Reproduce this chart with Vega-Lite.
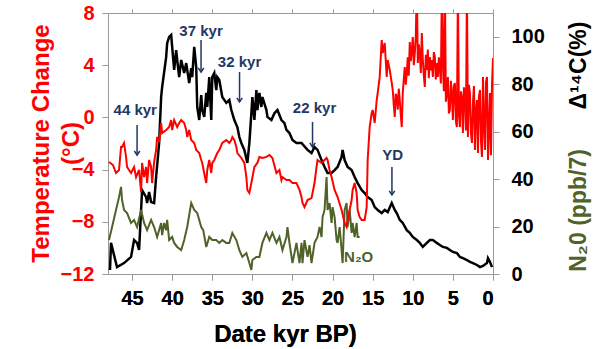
{
  "$schema": "https://vega.github.io/schema/vega-lite/v6.json",
  "width": 385,
  "height": 261,
  "autosize": {"type": "none"},
  "padding": {"left": 108, "top": 13, "right": 108, "bottom": 75},
  "background": "white",
  "config": {
    "view": {"stroke": "#999999", "strokeWidth": 1},
    "font": "Liberation Sans",
    "axis": {"labelFont": "Liberation Sans", "titleFont": "Liberation Sans", "labelFontWeight": "bold", "titleFontWeight": "bold", "grid": false, "domain": false, "tickColor": "#999999", "tickSize": 6}
  },
  "datasets": {
    "temp": [
      {"kyr":47.875,"t":-3.42},{"kyr":47.375,"t":-3.65},{"kyr":47.0,"t":-4.26},{"kyr":46.625,"t":-4.03},{"kyr":46.375,"t":-2.27},{"kyr":46.25,"t":-2.27},{"kyr":46.0,"t":-1.96},{"kyr":45.75,"t":-3.03},{"kyr":45.625,"t":-3.80},{"kyr":45.125,"t":-4.26},{"kyr":44.75,"t":-3.80},{"kyr":44.5,"t":-4.57},{"kyr":44.125,"t":-4.03},{"kyr":43.875,"t":-5.72},{"kyr":43.75,"t":-3.49},{"kyr":43.5,"t":-4.57},{"kyr":43.25,"t":-3.80},{"kyr":43.125,"t":-5.03},{"kyr":42.875,"t":-3.26},{"kyr":42.625,"t":-3.80},{"kyr":42.5,"t":-5.03},{"kyr":42.25,"t":-3.42},{"kyr":42.0,"t":-2.50},{"kyr":41.875,"t":-1.50},{"kyr":41.625,"t":-1.89},{"kyr":41.375,"t":-0.43},{"kyr":41.25,"t":-1.20},{"kyr":40.75,"t":-0.97},{"kyr":40.375,"t":-0.74},{"kyr":40.125,"t":-0.20},{"kyr":40.0,"t":-0.97},{"kyr":39.75,"t":-0.20},{"kyr":39.375,"t":-0.74},{"kyr":39.125,"t":-0.43},{"kyr":38.875,"t":-0.20},{"kyr":38.5,"t":-0.43},{"kyr":38.25,"t":-0.97},{"kyr":38.125,"t":-1.50},{"kyr":37.875,"t":-0.97},{"kyr":37.625,"t":-1.73},{"kyr":37.25,"t":-1.96},{"kyr":37.0,"t":-2.50},{"kyr":36.625,"t":-2.73},{"kyr":36.375,"t":-3.26},{"kyr":36.25,"t":-3.49},{"kyr":36.0,"t":-4.3},{"kyr":35.75,"t":-5.03},{"kyr":35.625,"t":-4.03},{"kyr":35.375,"t":-3.26},{"kyr":35.125,"t":-4.26},{"kyr":35.0,"t":-3.49},{"kyr":34.75,"t":-3.26},{"kyr":34.375,"t":-2.73},{"kyr":34.125,"t":-2.50},{"kyr":33.75,"t":-1.96},{"kyr":33.25,"t":-1.73},{"kyr":32.875,"t":-1.96},{"kyr":32.625,"t":-1.73},{"kyr":32.5,"t":-1.50},{"kyr":32.25,"t":-1.73},{"kyr":32.0,"t":-2.27},{"kyr":31.875,"t":-2.73},{"kyr":31.375,"t":-3.11},{"kyr":31.0,"t":-3.49},{"kyr":30.75,"t":-4.57},{"kyr":30.625,"t":-5.56},{"kyr":30.375,"t":-5.79},{"kyr":30.125,"t":-5.03},{"kyr":29.75,"t":-3.80},{"kyr":29.375,"t":-3.49},{"kyr":29.125,"t":-3.03},{"kyr":28.75,"t":-3.11},{"kyr":28.25,"t":-3.03},{"kyr":27.875,"t":-2.88},{"kyr":27.5,"t":-3.11},{"kyr":27.0,"t":-4.26},{"kyr":26.625,"t":-4.03},{"kyr":26.375,"t":-4.80},{"kyr":26.25,"t":-4.57},{"kyr":25.75,"t":-4.80},{"kyr":25.375,"t":-4.80},{"kyr":25.0,"t":-5.03},{"kyr":24.5,"t":-5.03},{"kyr":24.125,"t":-5.56},{"kyr":23.875,"t":-6.10},{"kyr":23.75,"t":-6.56},{"kyr":23.5,"t":-6.87},{"kyr":23.125,"t":-6.33},{"kyr":22.625,"t":-6.18},{"kyr":22.25,"t":-5.03},{"kyr":22.0,"t":-3.80},{"kyr":21.875,"t":-3.26},{"kyr":21.375,"t":-3.49},{"kyr":21.0,"t":-3.26},{"kyr":20.75,"t":-3.11},{"kyr":20.625,"t":-3.26},{"kyr":20.375,"t":-4.03},{"kyr":20.125,"t":-4.57},{"kyr":19.75,"t":-5.56},{"kyr":19.375,"t":-6.10},{"kyr":18.875,"t":-7.10},{"kyr":18.5,"t":-8.09},{"kyr":18.25,"t":-8.40},{"kyr":18.125,"t":-7.86},{"kyr":17.875,"t":-7.10},{"kyr":17.625,"t":-6.33},{"kyr":17.5,"t":-5.56},{"kyr":17.25,"t":-5.03},{"kyr":17.0,"t":-5.79},{"kyr":16.875,"t":-7.10},{"kyr":16.625,"t":-7.63},{"kyr":16.375,"t":-7.86},{"kyr":16.0,"t":-7.86},{"kyr":15.75,"t":-6.87},{"kyr":15.625,"t":-3.26},{"kyr":15.375,"t":-0.74},{"kyr":15.125,"t":0.34},{"kyr":15.0,"t":0.57},{"kyr":14.75,"t":-0.43},{"kyr":14.5,"t":1.33},{"kyr":14.375,"t":1.87},{"kyr":14.125,"t":3.10},{"kyr":13.875,"t":5.93},{"kyr":13.75,"t":4.93},{"kyr":13.5,"t":5.70},{"kyr":13.25,"t":3.10},{"kyr":13.125,"t":4.40},{"kyr":12.875,"t":3.63},{"kyr":12.625,"t":2.64},
      {"kyr":12.5,"t":2.1},{"kyr":12.375,"t":1.0},{"kyr":12.25,"t":0.03},{"kyr":12.125,"t":1.8},{"kyr":12.0,"t":1.56},{"kyr":11.875,"t":0.6},{"kyr":11.75,"t":2.2},{"kyr":11.625,"t":1.33},{"kyr":11.5,"t":0.2},{"kyr":11.375,"t":-0.74},{"kyr":11.25,"t":1.87},{"kyr":11.125,"t":2.9},{"kyr":11.0,"t":3.86},{"kyr":10.875,"t":2.5},{"kyr":10.75,"t":3.40},{"kyr":10.625,"t":4.6},{"kyr":10.5,"t":3.2},{"kyr":10.375,"t":5.78},{"kyr":10.25,"t":4.3},{"kyr":10.125,"t":5.16},{"kyr":10.0,"t":6.16},{"kyr":9.875,"t":4.0},{"kyr":9.75,"t":4.93},{"kyr":9.625,"t":6.2},{"kyr":9.5,"t":10},{"kyr":9.375,"t":4.17},{"kyr":9.25,"t":5.6},{"kyr":9.125,"t":4.93},{"kyr":9.0,"t":3.4},{"kyr":8.875,"t":6.47},{"kyr":8.75,"t":4.40},{"kyr":8.625,"t":3.2},{"kyr":8.5,"t":2.33},{"kyr":8.375,"t":4.8},{"kyr":8.25,"t":3.63},{"kyr":8.125,"t":5.2},{"kyr":8.0,"t":3.0},{"kyr":7.875,"t":4.63},{"kyr":7.75,"t":3.6},{"kyr":7.625,"t":4.40},{"kyr":7.5,"t":3.10},{"kyr":7.375,"t":5.0},{"kyr":7.25,"t":4.63},{"kyr":7.125,"t":2.9},{"kyr":7.0,"t":4.17},{"kyr":6.875,"t":3.10},{"kyr":6.75,"t":4.6},{"kyr":6.625,"t":3.86},{"kyr":6.5,"t":2.6},{"kyr":6.375,"t":10},{"kyr":6.25,"t":4.17},{"kyr":6.125,"t":2.0},{"kyr":6.0,"t":10},{"kyr":5.875,"t":1.2},{"kyr":5.75,"t":1.87},{"kyr":5.625,"t":3.10},{"kyr":5.5,"t":0.3},{"kyr":5.375,"t":0.57},{"kyr":5.25,"t":2.8},{"kyr":5.125,"t":1.87},{"kyr":5.0,"t":-0.20},{"kyr":4.875,"t":2.4},{"kyr":4.75,"t":2.64},{"kyr":4.625,"t":-0.3},{"kyr":4.5,"t":-0.74},{"kyr":4.375,"t":10},{"kyr":4.25,"t":0.2},{"kyr":4.125,"t":-0.74},{"kyr":4.0,"t":2.0},{"kyr":3.875,"t":1.56},{"kyr":3.75,"t":-1.20},{"kyr":3.625,"t":2.3},{"kyr":3.5,"t":1.87},{"kyr":3.375,"t":-1.0},{"kyr":3.25,"t":10},{"kyr":3.125,"t":-1.50},{"kyr":3.0,"t":2.5},{"kyr":2.875,"t":1.87},{"kyr":2.75,"t":-1.2},{"kyr":2.625,"t":-1.96},{"kyr":2.5,"t":1.10},{"kyr":2.375,"t":2.4},{"kyr":2.25,"t":-2.50},{"kyr":2.125,"t":0.5},{"kyr":2.0,"t":1.33},{"kyr":1.875,"t":-2.73},{"kyr":1.75,"t":1.6},{"kyr":1.625,"t":2.10},{"kyr":1.5,"t":-1.8},{"kyr":1.375,"t":-3.03},{"kyr":1.25,"t":3.10},{"kyr":1.125,"t":-0.5},{"kyr":1.0,"t":-2.50},{"kyr":0.875,"t":2.7},{"kyr":0.75,"t":3.10},{"kyr":0.625,"t":-3.26},{"kyr":0.5,"t":-0.9},{"kyr":0.375,"t":1.87},{"kyr":0.25,"t":-2.9},{"kyr":0.125,"t":2.5},{"kyr":0.0,"t":4.55}
    ],
    "c14": [
      {"kyr":47.75,"d":1.7},{"kyr":47.625,"d":13.1},{"kyr":46.875,"d":2.9},{"kyr":46.0,"d":4.6},{"kyr":45.125,"d":7.2},{"kyr":44.75,"d":14.3},{"kyr":44.375,"d":13.1},{"kyr":44.125,"d":10.1},{"kyr":43.75,"d":35.4},{"kyr":43.25,"d":32.4},{"kyr":43.125,"d":29.9},{"kyr":42.875,"d":34.6},{"kyr":42.625,"d":30.3},{"kyr":42.25,"d":29.9},{"kyr":42.0,"d":40.9},{"kyr":41.625,"d":55.2},{"kyr":41.375,"d":74.6},{"kyr":41.25,"d":78.8},{"kyr":40.75,"d":91.4},{"kyr":40.625,"d":97.3},{"kyr":40.375,"d":99.9},{"kyr":40.125,"d":100.7},{"kyr":40.0,"d":95.7},{"kyr":39.75,"d":86.0},{"kyr":39.5,"d":94.4},{"kyr":39.375,"d":90.2},{"kyr":39.125,"d":83.0},{"kyr":38.875,"d":90.2},{"kyr":38.5,"d":84.7},{"kyr":38.25,"d":88.9},{"kyr":37.875,"d":80.5},{"kyr":37.625,"d":86.8},{"kyr":37.5,"d":83.0},{"kyr":37.25,"d":95.7},{"kyr":37.0,"d":87.2},{"kyr":36.875,"d":70.4},{"kyr":36.625,"d":64.9},{"kyr":36.375,"d":75.4},{"kyr":36.25,"d":69.1},{"kyr":36.0,"d":66.2},{"kyr":35.75,"d":76.3},{"kyr":35.625,"d":70.4},{"kyr":35.375,"d":83.0},{"kyr":35.125,"d":64.9},{"kyr":35.0,"d":83.0},{"kyr":34.75,"d":84.7},{"kyr":34.5,"d":77.5},{"kyr":34.375,"d":83.0},{"kyr":34.125,"d":81.8},{"kyr":33.75,"d":74.6},{"kyr":33.25,"d":72.1},{"kyr":32.875,"d":73.3},{"kyr":32.625,"d":69.1},{"kyr":32.25,"d":64.9},{"kyr":31.875,"d":61.9},{"kyr":31.625,"d":57.7},{"kyr":31.375,"d":55.2},{"kyr":31.0,"d":52.3},{"kyr":30.625,"d":46.8},{"kyr":30.375,"d":55.2},{"kyr":30.125,"d":67.8},{"kyr":30.0,"d":74.6},{"kyr":29.75,"d":64.9},{"kyr":29.5,"d":77.5},{"kyr":29.375,"d":69.1},{"kyr":29.125,"d":76.3},{"kyr":28.875,"d":70.4},{"kyr":28.75,"d":74.6},{"kyr":28.25,"d":69.1},{"kyr":28.125,"d":66.2},{"kyr":27.625,"d":64.9},{"kyr":27.25,"d":67.8},{"kyr":26.875,"d":69.1},{"kyr":26.375,"d":64.9},{"kyr":26.0,"d":63.6},{"kyr":25.75,"d":60.7},{"kyr":25.375,"d":59.4},{"kyr":25.0,"d":56.5},{"kyr":24.5,"d":55.2},{"kyr":23.875,"d":55.2},{"kyr":23.125,"d":52.3},{"kyr":22.625,"d":51.0},{"kyr":22.25,"d":53.5},{"kyr":21.875,"d":52.3},{"kyr":21.375,"d":48.0},{"kyr":21.0,"d":45.1},{"kyr":20.625,"d":42.6},{"kyr":20.125,"d":42.6},{"kyr":19.75,"d":43.8},{"kyr":19.375,"d":45.1},{"kyr":18.875,"d":49.3},{"kyr":18.75,"d":52.3},{"kyr":18.5,"d":48.0},{"kyr":18.125,"d":45.1},{"kyr":17.625,"d":43.8},{"kyr":17.25,"d":40.9},{"kyr":16.875,"d":38.3},{"kyr":16.375,"d":35.4},{"kyr":16.0,"d":34.1},{"kyr":15.625,"d":32.4},{"kyr":15.125,"d":31.2},{"kyr":14.75,"d":28.2},{"kyr":14.375,"d":27.0},{"kyr":13.875,"d":25.7},{"kyr":13.5,"d":27.0},{"kyr":13.125,"d":26.1},{"kyr":12.625,"d":29.9},{"kyr":12.25,"d":27.0},{"kyr":12.0,"d":25.7},{"kyr":11.625,"d":22.8},{"kyr":11.25,"d":21.5},{"kyr":10.75,"d":18.5},{"kyr":10.375,"d":17.3},{"kyr":10.0,"d":15.6},{"kyr":9.5,"d":14.3},{"kyr":9.125,"d":13.1},{"kyr":8.75,"d":11.4},{"kyr":8.25,"d":13.1},{"kyr":7.875,"d":14.3},{"kyr":7.5,"d":14.3},{"kyr":7.0,"d":13.1},{"kyr":6.625,"d":12.2},{"kyr":6.25,"d":11.4},{"kyr":5.75,"d":11.0},{"kyr":5.375,"d":10.1},{"kyr":5.0,"d":9.3},{"kyr":4.5,"d":8.8},{"kyr":4.125,"d":7.2},{"kyr":3.75,"d":6.7},{"kyr":3.25,"d":5.9},{"kyr":2.875,"d":5.1},{"kyr":2.5,"d":4.6},{"kyr":2.0,"d":3.8},{"kyr":1.625,"d":2.9},{"kyr":1.25,"d":3.4},{"kyr":0.75,"d":4.6},{"kyr":0.625,"d":6.7},{"kyr":0.375,"d":5.1},{"kyr":0.125,"d":2.9}
    ],
    "n2o": [
      {"kyr":47.875,"n":14.3},{"kyr":47.375,"n":21.5},{"kyr":47.0,"n":27.0},{"kyr":46.625,"n":32.4},{"kyr":46.375,"n":36.7},{"kyr":46.25,"n":31.2},{"kyr":46.0,"n":27.0},{"kyr":45.625,"n":25.7},{"kyr":45.125,"n":21.5},{"kyr":44.75,"n":22.8},{"kyr":44.375,"n":19.8},{"kyr":43.875,"n":27.0},{"kyr":43.5,"n":21.5},{"kyr":43.125,"n":18.5},{"kyr":42.625,"n":22.8},{"kyr":42.25,"n":19.8},{"kyr":41.875,"n":15.6},{"kyr":41.375,"n":21.5},{"kyr":41.25,"n":16.4},{"kyr":41.0,"n":21.5},{"kyr":40.75,"n":18.5},{"kyr":40.625,"n":22.8},{"kyr":40.375,"n":14.3},{"kyr":40.0,"n":15.6},{"kyr":39.75,"n":13.1},{"kyr":39.375,"n":11.4},{"kyr":38.875,"n":10.1},{"kyr":38.5,"n":14.3},{"kyr":38.125,"n":19.8},{"kyr":37.625,"n":29.9},{"kyr":37.25,"n":27.0},{"kyr":36.875,"n":25.7},{"kyr":36.375,"n":19.8},{"kyr":36.125,"n":18.5},{"kyr":35.75,"n":11.4},{"kyr":35.375,"n":15.6},{"kyr":35.0,"n":14.3},{"kyr":34.5,"n":14.3},{"kyr":34.125,"n":13.1},{"kyr":33.75,"n":14.3},{"kyr":33.25,"n":13.1},{"kyr":32.875,"n":13.1},{"kyr":32.5,"n":17.3},{"kyr":32.0,"n":14.3},{"kyr":31.625,"n":10.1},{"kyr":31.25,"n":7.2},{"kyr":30.75,"n":8.8},{"kyr":30.375,"n":4.6},{"kyr":30.125,"n":1.7},{"kyr":30.0,"n":5.9},{"kyr":29.5,"n":7.2},{"kyr":29.125,"n":7.2},{"kyr":28.75,"n":13.1},{"kyr":28.25,"n":17.3},{"kyr":27.875,"n":14.3},{"kyr":27.5,"n":17.3},{"kyr":27.0,"n":13.1},{"kyr":26.625,"n":15.6},{"kyr":26.25,"n":10.1},{"kyr":25.75,"n":15.6},{"kyr":25.625,"n":19.8},{"kyr":25.375,"n":13.1},{"kyr":25.0,"n":4.6},{"kyr":24.5,"n":13.1},{"kyr":24.375,"n":10.1},{"kyr":24.125,"n":4.6},{"kyr":23.875,"n":13.1},{"kyr":23.75,"n":4.6},{"kyr":23.5,"n":14.3},{"kyr":23.125,"n":7.2},{"kyr":22.875,"n":12.2},{"kyr":22.625,"n":4.6},{"kyr":22.25,"n":13.1},{"kyr":21.875,"n":15.6},{"kyr":21.625,"n":19.8},{"kyr":21.375,"n":15.6},{"kyr":21.25,"n":24.0},{"kyr":21.0,"n":27.0},{"kyr":20.75,"n":40.9},{"kyr":20.625,"n":27.0},{"kyr":20.375,"n":29.9},{"kyr":20.125,"n":21.5},{"kyr":20.0,"n":28.2},{"kyr":19.75,"n":24.0},{"kyr":19.5,"n":14.3},{"kyr":19.375,"n":13.1},{"kyr":19.125,"n":19.8},{"kyr":18.875,"n":10.1},{"kyr":18.75,"n":4.6},{"kyr":18.5,"n":27.0},{"kyr":18.25,"n":29.9},{"kyr":18.125,"n":19.8},{"kyr":17.875,"n":27.0},{"kyr":17.625,"n":17.3},{"kyr":17.5,"n":21.5},{"kyr":17.25,"n":15.6},{"kyr":17.0,"n":21.5},{"kyr":16.875,"n":15.6},{"kyr":16.625,"n":15.6}
    ],
    "notes": [
      {"kyr":44.6,"y":69.1,"label":"44 kyr"},
      {"kyr":36.4,"y":102.4,"label":"37 kyr"},
      {"kyr":31.6,"y":89.3,"label":"32 kyr"},
      {"kyr":22.25,"y":70.0,"label":"22 kyr"},
      {"kyr":12.5,"y":50.1,"label":"YD"}
    ],
    "arrows": [
      {"kyr":44.375,"y1":62.8,"y2":50.1},
      {"kyr":36.4,"y1":98.6,"y2":85.1},
      {"kyr":31.6,"y1":85.1,"y2":72.5},
      {"kyr":22.5,"y1":64.1,"y2":53.5},
      {"kyr":12.6,"y1":45.1,"y2":33.3}
    ],
    "n2olabel": [{"kyr":16.75,"y":7.2,"label":"N₂O"}]
  },
  "encoding": {
    "x": {
      "field": "kyr", "type": "quantitative",
      "scale": {"domain": [48, 0], "nice": false, "zero": false},
      "axis": {
        "orient": "bottom", "values": [45,40,35,30,25,20,15,10,5,0],
        "labelFontSize": 20, "labelColor": "black", "labelPadding": 8,
        "title": "Date kyr BP)", "titleFontSize": 24, "titleColor": "black",
        "titleX": 177, "titleY": 60, "titleBaseline": "middle", "titleAlign": "center"
      }
    }
  },
  "layer": [
    {
      "layer": [
        {
          "data": {"name": "c14"},
          "mark": {"type": "line", "color": "black", "strokeWidth": 2.5, "clip": true},
          "encoding": {
            "y": {
              "field": "d", "type": "quantitative",
              "scale": {"domain": [0, 110], "nice": false},
              "axis": {
                "orient": "right", "values": [0,20,40,60,80,100],
                "labelFontSize": 20, "labelColor": "black", "labelPadding": 12,
                "title": "Δ¹⁴C(%)", "titleFontSize": 23, "titleColor": "black",
                "titleAngle": 270, "titleX": 85, "titleY": 52, "titleAlign": "center", "titleBaseline": "middle"
              }
            }
          }
        },
        {
          "data": {"name": "arrows"},
          "mark": {"type": "rule", "color": "#1f3864", "strokeWidth": 1.5},
          "encoding": {"y": {"field": "y1", "type": "quantitative"}, "y2": {"field": "y2"}}
        },
        {
          "data": {"name": "arrows"},
          "mark": {"type": "point", "shape": "M -1 -1.5 L 0 0 L 1 -1.5", "filled": false, "color": "#1f3864", "strokeWidth": 1.5, "size": 30, "opacity": 1},
          "encoding": {"y": {"field": "y2", "type": "quantitative"}}
        },
        {
          "data": {"name": "notes"},
          "mark": {"type": "text", "color": "#1f3864", "font": "Liberation Sans", "fontWeight": "bold", "fontSize": 15, "baseline": "middle", "align": "center"},
          "encoding": {"y": {"field": "y", "type": "quantitative"}, "text": {"field": "label"}}
        },
        {
          "data": {"name": "n2olabel"},
          "mark": {"type": "text", "color": "#4f6228", "font": "Liberation Sans", "fontWeight": "bold", "fontSize": 15, "baseline": "middle", "align": "center"},
          "encoding": {"y": {"field": "y", "type": "quantitative"}, "text": {"field": "label"}}
        }
      ]
    },
    {
      "data": {"name": "n2o"},
      "mark": {"type": "line", "color": "#4f6228", "strokeWidth": 2, "clip": true},
      "encoding": {
        "x": {
          "field": "kyr", "type": "quantitative",
          "scale": {"domain": [48, 0], "nice": false, "zero": false},
          "axis": {"orient": "top", "values": [45,40,35,30,25,20,15,10,5,0], "labels": false, "title": null, "tickSize": 4}
        },
        "y": {
          "field": "n", "type": "quantitative",
          "scale": {"domain": [0, 110], "nice": false},
          "axis": {
            "orient": "right", "labels": false, "ticks": false, "domain": false,
            "title": "N₂0 (ppb/7)", "titleFontSize": 23, "titleColor": "#4f6228",
            "titleAngle": 270, "titleX": 85, "titleY": 197, "titleAlign": "center", "titleBaseline": "middle"
          }
        }
      }
    },
    {
      "data": {"name": "temp"},
      "mark": {"type": "line", "color": "#ff0000", "strokeWidth": 2, "clip": true},
      "encoding": {
        "y": {
          "field": "t", "type": "quantitative",
          "scale": {"domain": [-12, 8], "nice": false, "zero": false},
          "axis": {
            "orient": "left", "values": [-12,-8,-4,0,4,8],
            "labelFontSize": 20, "labelColor": "#ff0000", "labelPadding": 8,
            "title": ["Temperature  Change", "(°C)"], "titleFontSize": 24, "titleColor": "#ff0000",
            "titleAngle": 270, "titleX": -67, "titleY": 130, "titleAlign": "center", "titleBaseline": "middle", "titleLineHeight": 30
          }
        }
      }
    }
  ],
  "resolve": {"scale": {"y": "independent"}, "axis": {"y": "independent"}}
}
